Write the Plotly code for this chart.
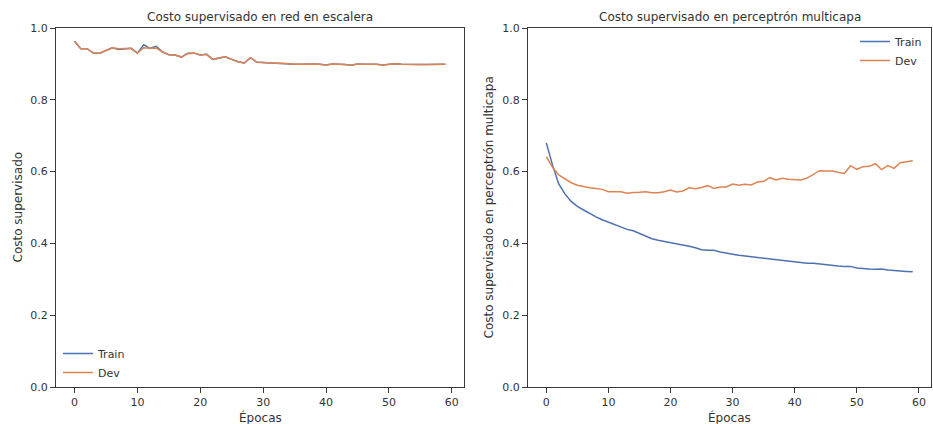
import plotly.graph_objects as go

epochs = list(range(60))

ladder_train = [0.963, 0.9425, 0.9425, 0.930, 0.9295, 0.9378, 0.945, 0.940, 0.9425, 0.9434,
                0.930, 0.9535, 0.9434, 0.949, 0.933, 0.9257, 0.9248, 0.919, 0.930, 0.930,
                0.9248, 0.9266, 0.9127, 0.9155, 0.920, 0.9127, 0.906, 0.9025, 0.9173, 0.9044,
                0.9034, 0.9016, 0.9016, 0.9016, 0.8997, 0.8988, 0.8988, 0.8997, 0.8997, 0.8988,
                0.897, 0.8997, 0.8997, 0.898, 0.896, 0.8997, 0.8988, 0.8997, 0.8988, 0.897,
                0.8988, 0.9006, 0.8988, 0.898, 0.897, 0.898, 0.898, 0.898, 0.898, 0.8988]
ladder_dev = [0.963, 0.9425, 0.9425, 0.930, 0.9295, 0.9378, 0.945, 0.9425, 0.9425, 0.9434,
              0.930, 0.945, 0.9434, 0.944, 0.933, 0.9257, 0.9248, 0.919, 0.9285, 0.930,
              0.9248, 0.9266, 0.9127, 0.9155, 0.920, 0.9127, 0.906, 0.9025, 0.9173, 0.9053,
              0.9034, 0.9016, 0.9016, 0.9016, 0.8997, 0.8988, 0.8988, 0.8997, 0.8997, 0.8988,
              0.897, 0.8997, 0.8997, 0.898, 0.896, 0.8997, 0.8988, 0.8997, 0.8988, 0.897,
              0.8988, 0.9006, 0.8988, 0.898, 0.897, 0.898, 0.898, 0.898, 0.898, 0.8988]

mlp_train = [0.680, 0.618, 0.5655, 0.538, 0.517, 0.503, 0.493, 0.483, 0.474, 0.466,
             0.459, 0.451, 0.445, 0.439, 0.435, 0.427, 0.420, 0.413, 0.409, 0.406,
             0.401, 0.398, 0.396, 0.392, 0.388, 0.3825, 0.381, 0.381, 0.376, 0.372,
             0.370, 0.367, 0.365, 0.362, 0.360, 0.3585, 0.3565, 0.3546, 0.353, 0.351,
             0.350, 0.347, 0.345, 0.345, 0.3426, 0.340, 0.339, 0.337, 0.336, 0.336,
             0.3315, 0.3296, 0.3287, 0.328, 0.3287, 0.326, 0.324, 0.322, 0.322, 0.321]
mlp_dev = [0.6416, 0.612, 0.5905, 0.5785, 0.569, 0.562, 0.558, 0.555, 0.553, 0.5505,
           0.544, 0.543, 0.544, 0.5395, 0.542, 0.5423, 0.544, 0.5413, 0.5413, 0.544,
           0.5487, 0.543, 0.546, 0.555, 0.5524, 0.556, 0.5608, 0.553, 0.557, 0.557,
           0.5655, 0.5617, 0.5645, 0.5627, 0.571, 0.573, 0.583, 0.5766, 0.5813, 0.579,
           0.5775, 0.5766, 0.582, 0.5924, 0.6025, 0.6017, 0.6017, 0.598, 0.595, 0.6165,
           0.6064, 0.6137, 0.6146, 0.622, 0.6054, 0.6165, 0.609, 0.6248, 0.6277, 0.6305]

x_ticks = [0, 10, 20, 30, 40, 50, 60]
y_ticks = [0.0, 0.2, 0.4, 0.6, 0.8, 1.0]

BLUE = "#4C72B0"
ORANGE = "#DD8452"
TXT = "#333333"
FONT = "DejaVu Sans"

W, H = 933, 424
def px(x):
    return x / W
def py(y):
    return (H - y) / H

fig = go.Figure()
fig.add_trace(go.Scatter(x=epochs, y=ladder_train, mode="lines", name="Train",
                         line=dict(color=BLUE, width=1.5), xaxis="x", yaxis="y", legend="legend"))
fig.add_trace(go.Scatter(x=epochs, y=ladder_dev, mode="lines", name="Dev",
                         line=dict(color=ORANGE, width=1.5), xaxis="x", yaxis="y", legend="legend"))
fig.add_trace(go.Scatter(x=epochs, y=mlp_train, mode="lines", name="Train",
                         line=dict(color=BLUE, width=1.5), xaxis="x2", yaxis="y2", legend="legend2"))
fig.add_trace(go.Scatter(x=epochs, y=mlp_dev, mode="lines", name="Dev",
                         line=dict(color=ORANGE, width=1.5), xaxis="x2", yaxis="y2", legend="legend2"))

axis_common = dict(showgrid=False, zeroline=False, showline=True, mirror=True,
                   linecolor="#3a3a3a", linewidth=1.2, ticks="outside", ticklen=5,
                   tickwidth=1.2, tickcolor="#3a3a3a", automargin=False,
                   tickfont=dict(family=FONT, size=11, color=TXT))

xdom1 = [px(56), px(464)]
xdom2 = [px(528), px(931)]
ydom = [py(387), py(28)]

fig.update_layout(
    width=W, height=H,
    margin=dict(l=0, r=0, t=0, b=0, autoexpand=False),
    paper_bgcolor="white", plot_bgcolor="white",
    xaxis=dict(domain=xdom1, range=[-2.95, 61.95], tickvals=x_ticks, anchor="y", **axis_common),
    yaxis=dict(domain=ydom, range=[0, 1], tickvals=y_ticks, tickformat=".1f", anchor="x", **axis_common),
    xaxis2=dict(domain=xdom2, range=[-2.95, 61.95], tickvals=x_ticks, anchor="y2", **axis_common),
    yaxis2=dict(domain=ydom, range=[0, 1], tickvals=y_ticks, tickformat=".1f", anchor="x2", **axis_common),
    legend=dict(x=px(58), y=py(339), xanchor="left", yanchor="top",
                font=dict(family=FONT, size=11, color=TXT), bgcolor="rgba(0,0,0,0)",
                itemwidth=30, tracegroupgap=0),
    legend2=dict(x=px(928), y=py(27), xanchor="right", yanchor="top",
                 font=dict(family=FONT, size=11, color=TXT), bgcolor="rgba(0,0,0,0)",
                 itemwidth=30, tracegroupgap=0),
    showlegend=True,
)

ann_font = dict(family=FONT, size=12, color=TXT)
annotations = [
    dict(text="Costo supervisado en red en escalera", x=(xdom1[0] + xdom1[1]) / 2, y=ydom[1],
         xref="paper", yref="paper", xanchor="center", yanchor="bottom", yshift=2,
         showarrow=False, font=ann_font),
    dict(text="Costo supervisado en perceptrón multicapa", x=(xdom2[0] + xdom2[1]) / 2, y=ydom[1],
         xref="paper", yref="paper", xanchor="center", yanchor="bottom", yshift=2,
         showarrow=False, font=ann_font),
    dict(text="Épocas", x=(xdom1[0] + xdom1[1]) / 2, y=py(417), xref="paper", yref="paper",
         xanchor="center", yanchor="middle", showarrow=False, font=ann_font),
    dict(text="Épocas", x=(xdom2[0] + xdom2[1]) / 2, y=py(417), xref="paper", yref="paper",
         xanchor="center", yanchor="middle", showarrow=False, font=ann_font),
    dict(text="Costo supervisado", x=px(17), y=(ydom[0] + ydom[1]) / 2, xref="paper", yref="paper",
         xanchor="center", yanchor="middle", textangle=-90, showarrow=False, font=ann_font),
    dict(text="Costo supervisado en perceptrón multicapa", x=px(488), y=(ydom[0] + ydom[1]) / 2,
         xref="paper", yref="paper", xanchor="center", yanchor="middle", textangle=-90,
         showarrow=False, font=ann_font),
]
fig.update_layout(annotations=annotations)

fig.write_html("out.html")
